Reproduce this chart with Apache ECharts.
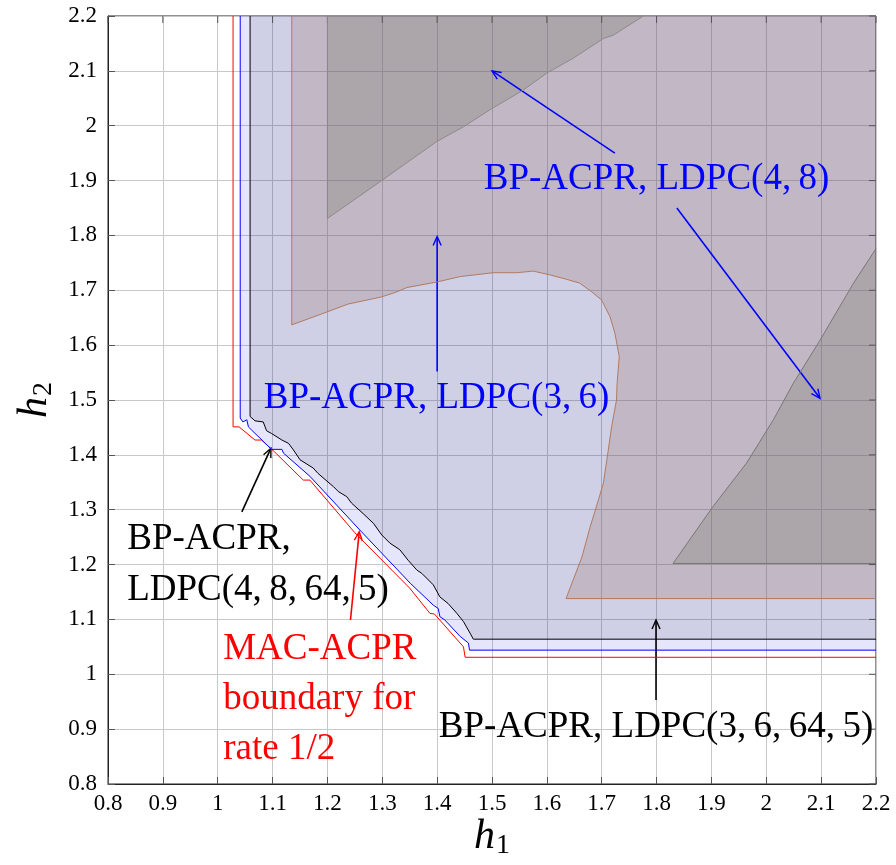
<!DOCTYPE html>
<html><head><meta charset="utf-8">
<script src="https://cdn.jsdelivr.net/npm/echarts@6/dist/echarts.min.js"></script>
<style>html,body{margin:0;padding:0;background:#fff}#c{width:896px;height:865px}</style>
</head><body><div id="c"></div>
<script>
// ---------------- data (h1, h2) ----------------
const tickLabels = ['0.8','0.9','1','1.1','1.2','1.3','1.4','1.5','1.6','1.7','1.8','1.9','2','2.1','2.2'];
const tickValues = tickLabels.map(Number);

// MAC-ACPR boundary for rate 1/2 (red)
const macBoundary = [[1.028,2.2],[1.028,1.451],[1.039,1.451],[1.068,1.427],[1.08,1.427],[1.104,1.405],[1.156,1.354],[1.168,1.354],[1.25,1.258],[1.35,1.157],[1.387,1.111],[1.395,1.11],[1.448,1.05],[1.451,1.031],[2.2,1.031]];

// BP-ACPR, LDPC(3,6,64,5) (blue)
const ldpc3_6_64_5 = [[1.041,2.2],[1.041,1.467],[1.046,1.46],[1.053,1.464],[1.056,1.451],[1.062,1.445],[1.098,1.41],[1.117,1.41],[1.12,1.403],[1.168,1.361],[1.259,1.263],[1.351,1.166],[1.393,1.126],[1.402,1.12],[1.405,1.105],[1.414,1.099],[1.442,1.069],[1.457,1.057],[1.459,1.044],[2.2,1.044]];

// BP-ACPR, LDPC(4,8,64,5) (black)
const ldpc4_8_64_5 = [[1.059,2.2],[1.059,1.47],[1.068,1.462],[1.083,1.46],[1.089,1.444],[1.098,1.439],[1.117,1.427],[1.129,1.421],[1.138,1.409],[1.15,1.391],[1.174,1.376],[1.183,1.366],[1.211,1.342],[1.22,1.333],[1.235,1.324],[1.244,1.312],[1.265,1.293],[1.284,1.275],[1.299,1.254],[1.314,1.239],[1.332,1.227],[1.347,1.208],[1.363,1.19],[1.372,1.184],[1.393,1.163],[1.405,1.141],[1.42,1.129],[1.436,1.111],[1.448,1.096],[1.46,1.075],[1.466,1.064],[2.2,1.064]];

// BP-ACPR, LDPC(3,6) (brown region boundary)
const ldpc3_6 = [[1.135,2.2],[1.135,1.637],[1.168,1.649],[1.238,1.675],[1.299,1.688],[1.326,1.697],[1.345,1.705],[1.399,1.715],[1.442,1.725],[1.502,1.732],[1.545,1.732],[1.575,1.735],[1.606,1.728],[1.636,1.72],[1.66,1.713],[1.682,1.697],[1.7,1.682],[1.715,1.652],[1.724,1.622],[1.732,1.579],[1.728,1.53],[1.727,1.5],[1.718,1.451],[1.712,1.409],[1.703,1.348],[1.694,1.318],[1.679,1.269],[1.664,1.214],[1.648,1.172],[1.635,1.138],[2.2,1.138]];

// BP-ACPR, LDPC(4,8) (dark gray regions)
const ldpc4_8_upper = [[1.2,2.2],[1.2,1.831],[1.296,1.898],[1.399,1.971],[1.448,1.998],[1.496,2.029],[1.557,2.065],[1.6,2.096],[1.648,2.123],[1.703,2.159],[1.721,2.165],[1.776,2.2]];
const ldpc4_8_lower = [[2.2,1.202],[1.83,1.202],[1.903,1.306],[1.964,1.385],[2.013,1.464],[2.049,1.53],[2.098,1.609],[2.159,1.713],[2.2,1.776]];

const cornerTR = [2.2, 2.2];

// annotations
const TS = '\u2009';
const labelTexts = ['BP-ACPR, LDPC(4,'+TS+'8)','BP-ACPR, LDPC(3,'+TS+'6)','BP-ACPR,','LDPC(4,'+TS+'8,'+TS+'64,'+TS+'5)','MAC-ACPR','boundary for','rate 1/2','BP-ACPR, LDPC(3,'+TS+'6,'+TS+'64,'+TS+'5)'];
const labelAnchors = [[1.8,1.902],[1.399,1.503],[0.835,1.247],[0.835,1.154],[1.01,1.046],[1.01,0.955],[1.01,0.863],[1.799,0.903]];
const labelColors = ['#0000ff','#0000ff','#000','#000','#ff0000','#ff0000','#ff0000','#000'];
const labelAligns = ['center','center','left','left','left','left','left','center'];

const arrowTails = [[1.724,1.95],[1.837,1.85],[1.4,1.552],[1.044,1.296],[1.242,1.099],[1.799,0.953]];
const arrowHeads = [[1.5,2.1],[2.098,1.503],[1.4,1.798],[1.097,1.412],[1.258,1.26],[1.799,1.099]];
const arrowColors = ['#0000ff','#0000ff','#0000ff','#000','#ff0000','#000'];

// ---------------- chart ----------------
const FONT = 'Liberation Serif';

function fillSeries(pts, fill) {
  return {
    type: 'custom', coordinateSystem: 'cartesian2d', silent: true, clip: true,
    data: [pts[0]],
    renderItem: (params, api) => ({
      type: 'polygon',
      shape: { points: pts.map(p => api.coord(p)) },
      style: { fill: fill, stroke: null }
    })
  };
}
function lineSeries(pts, color, w) {
  return {
    type: 'line', data: pts, showSymbol: false, symbol: 'none', silent: true,
    lineStyle: { color: color, width: w }, animation: false
  };
}

const series = [
  fillSeries(ldpc3_6_64_5.concat([cornerTR]), 'rgba(40,50,230,0.12)'),
  fillSeries(ldpc4_8_64_5.concat([cornerTR]), 'rgba(20,20,40,0.10)'),
  fillSeries(ldpc3_6.concat([cornerTR]), 'rgba(157,111,98,0.25)'),
  fillSeries(ldpc4_8_upper, 'rgba(109,111,97,0.25)'),
  fillSeries(ldpc4_8_lower, 'rgba(109,111,97,0.25)'),
  lineSeries(ldpc3_6, '#b07a60', 1),
  lineSeries(ldpc4_8_upper, '#8a8a8a', 1),
  lineSeries(ldpc4_8_lower, '#777777', 1),
  lineSeries(macBoundary, '#ff0000', 1),
  lineSeries(ldpc3_6_64_5, '#0000ff', 1),
  lineSeries(ldpc4_8_64_5, '#000000', 1),
  // inside ticks on the top and right frame edges + tick labels, placed through the axis scales
  {
    type: 'custom', coordinateSystem: 'cartesian2d', silent: true, clip: false,
    data: tickValues.map(v => [v, v]),
    renderItem: (params, api) => {
      const i = params.dataIndex;
      const v = api.value(0);
      const top = api.coord([v, 2.2]);
      const right = api.coord([2.2, v]);
      const bottom = api.coord([v, 0.8]);
      const left = api.coord([0.8, v]);
      const st = { stroke: '#555', lineWidth: 1 };
      return { type: 'group', children: [
        { type: 'line', shape: { x1: top[0], y1: top[1], x2: top[0], y2: top[1] + 7 }, style: st },
        { type: 'line', shape: { x1: right[0], y1: right[1], x2: right[0] - 7, y2: right[1] }, style: st },
        { type: 'text', x: bottom[0], y: bottom[1] + 8, style: { text: tickLabels[i], fill: '#000', fontFamily: FONT, fontSize: 23, align: 'center', verticalAlign: 'top' } },
        { type: 'text', x: left[0] - 11, y: left[1], style: { text: tickLabels[i], fill: '#000', fontFamily: FONT, fontSize: 23, align: 'right', verticalAlign: 'middle' } }
      ]};
    }
  },
  {
    type: 'custom', coordinateSystem: 'cartesian2d', silent: true, clip: false,
    data: arrowHeads,
    renderItem: (params, api) => {
      const i = params.dataIndex;
      const p1 = api.coord([api.value(0), api.value(1)]);
      const p0 = api.coord(arrowTails[i]);
      const dx = p1[0]-p0[0], dy = p1[1]-p0[1], L = Math.hypot(dx, dy);
      const ux = dx/L, uy = dy/L, hl = 9, hw = 4;
      const bx = p1[0]-ux*hl, by = p1[1]-uy*hl;
      const c = arrowColors[i];
      return { type: 'group', children: [
        { type: 'line', shape: { x1: p0[0], y1: p0[1], x2: p1[0]-ux*1, y2: p1[1]-uy*1 }, style: { stroke: c, lineWidth: 1.6 } },
        { type: 'polyline', shape: { points: [[bx-uy*hw, by+ux*hw], p1, [bx+uy*hw, by-ux*hw]] }, style: { stroke: c, fill: null, lineWidth: 1.4 } }
      ]};
    }
  },
  {
    type: 'custom', coordinateSystem: 'cartesian2d', silent: true, clip: false,
    data: labelAnchors,
    renderItem: (params, api) => {
      const i = params.dataIndex;
      const p = api.coord([api.value(0), api.value(1)]);
      return { type: 'text', x: p[0], y: p[1], style: {
        text: labelTexts[i], fill: labelColors[i], fontFamily: FONT, fontSize: 37,
        align: labelAligns[i], verticalAlign: 'middle'
      }};
    }
  }
];

const nameRich = {
  h: { fontFamily: FONT, fontStyle: 'italic', fontSize: 42, color: '#000', lineHeight: 46 },
  s: { fontFamily: FONT, fontSize: 28, color: '#000', verticalAlign: 'bottom', lineHeight: 30, padding: [0,0,0,1] }
};

const chart = echarts.init(document.getElementById('c'));
chart.setOption({
  animation: false,
  backgroundColor: '#fff',
  grid: { left: 108, right: 20, top: 16, bottom: 81, show: true, borderColor: '#222', borderWidth: 1, backgroundColor: 'transparent' },
  xAxis: {
    type: 'value', min: 0.8, max: 2.2, interval: 0.1,
    axisLine: { show: true, onZero: false, lineStyle: { color: '#222', width: 1 } },
    axisTick: { show: true, inside: true, length: 7, lineStyle: { color: '#555' } },
    axisLabel: { show: false },
    splitLine: { show: true, lineStyle: { color: '#c8c8c8', width: 1 } },
    name: '{h|h}{s|1}', nameLocation: 'middle', nameGap: 30,
    nameTextStyle: { rich: nameRich }
  },
  yAxis: {
    type: 'value', min: 0.8, max: 2.2, interval: 0.1,
    axisLine: { show: true, onZero: false, lineStyle: { color: '#222', width: 1 } },
    axisTick: { show: true, inside: true, length: 7, lineStyle: { color: '#555' } },
    axisLabel: { show: false },
    splitLine: { show: true, lineStyle: { color: '#c8c8c8', width: 1 } },
    name: '{h|h}{s|2}', nameLocation: 'middle', nameGap: 50, nameRotate: 90,
    nameTextStyle: { rich: nameRich }
  },
  series: series
});
</script>
</body></html>
